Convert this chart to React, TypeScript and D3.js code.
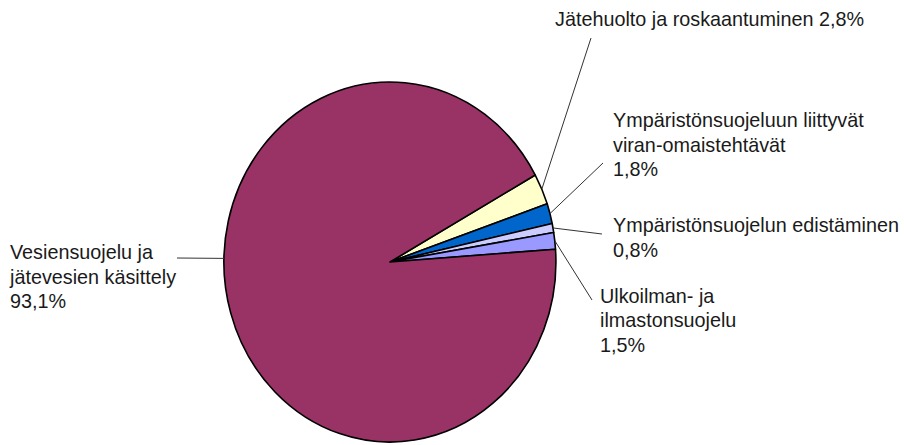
import React, { useEffect, useRef } from 'react';
import * as d3 from 'd3';

// slices in clockwise order, starting at the upper edge of the yellow slice
const categories = [
  'Jätehuolto ja roskaantuminen',
  'Ympäristönsuojeluun liittyvät viran-omaistehtävät',
  'Ympäristönsuojelun edistäminen',
  'Ulkoilman- ja ilmastonsuojelu',
  'Vesiensuojelu ja jätevesien käsittely',
];
const shares = [2.8, 1.8, 0.8, 1.5, 93.1];
const valueLabels = ['2,8%', '1,8%', '0,8%', '1,5%', '93,1%'];
const colors = ['#FFFFCC', '#0066CC', '#CCCCFF', '#9999FF', '#993366'];

// label text lines and where they sit (layout only)
const labelLines = [
  ['Jätehuolto ja roskaantuminen 2,8%'],
  ['Ympäristönsuojeluun liittyvät', 'viran-omaistehtävät', '1,8%'],
  ['Ympäristönsuojelun edistäminen', '0,8%'],
  ['Ulkoilman- ja', 'ilmastonsuojelu', '1,5%'],
  ['Vesiensuojelu ja', 'jätevesien käsittely', '93,1%'],
];
const labelPos = [
  { x: 555, y: 26, lx: 591, ly: 38 },
  { x: 613, y: 127, lx: 603, ly: 163 },
  { x: 613, y: 232, lx: 602, ly: 234 },
  { x: 600, y: 302.5, lx: 592, ly: 300 },
  { x: 10, y: 259, lx: 177, ly: 258 },
];

const width = 904;
const height = 445;
const cx = 390;
const cy = 262;
const rx = 166;
const ry = 180;
const startDeg = 61.1;

export default function App() {
  const svgRef = useRef<SVGSVGElement | null>(null);

  useEffect(() => {
    if (svgRef.current === null) {
      return;
    }
    const svg = d3.select(svgRef.current);
    svg.selectAll('*').remove();

    const start = (startDeg * Math.PI) / 180;
    const pie = d3
      .pie<number>()
      .sort(null)
      .value((d) => d)
      .startAngle(start)
      .endAngle(start + 2 * Math.PI);
    const arcs = pie(shares);
    const arc = d3.arc<d3.PieArcDatum<number>>().innerRadius(0).outerRadius(1);

    // unit pie stretched into the ellipse
    svg
      .append('g')
      .attr('transform', `translate(${cx},${cy}) scale(${rx},${ry})`)
      .selectAll('path')
      .data(arcs)
      .join('path')
      .attr('d', arc)
      .attr('fill', (_, i) => colors[i])
      .attr('stroke', '#000')
      .attr('stroke-width', 1.6)
      .attr('stroke-linejoin', 'round')
      .attr('vector-effect', 'non-scaling-stroke');

    const edge = (a: number) => [cx + rx * Math.sin(a), cy - ry * Math.cos(a)];

    const leaders = svg.append('g');
    arcs.forEach((d, i) => {
      const p = labelPos[i];
      // the big slice gets its leader at the left side of the ellipse
      const a = i === 4 ? (3 * Math.PI) / 2 + 0.02 : (d.startAngle + d.endAngle) / 2;
      const [ex, ey] = edge(a);
      leaders
        .append('line')
        .attr('x1', p.lx)
        .attr('y1', p.ly)
        .attr('x2', ex)
        .attr('y2', ey)
        .attr('stroke', '#333')
        .attr('stroke-width', 1);
    });

    const labels = svg
      .append('g')
      .style('font-family', '"Liberation Sans", Arial, sans-serif')
      .style('font-size', '19.8px')
      .attr('fill', '#1a1a1a');
    labelLines.forEach((lines, i) => {
      const p = labelPos[i];
      const t = labels.append('text').attr('x', p.x).attr('y', p.y);
      lines.forEach((line, j) => {
        t.append('tspan').attr('x', p.x).attr('dy', j === 0 ? 0 : 24.5).text(line);
      });
    });
  }, []);

  return (
    <svg
      ref={svgRef}
      width={width}
      height={height}
      style={{ position: 'absolute', left: 0, top: 0, background: '#fff' }}
    >
      <title>{categories.join(', ') + ' ' + valueLabels.join(', ')}</title>
    </svg>
  );
}
